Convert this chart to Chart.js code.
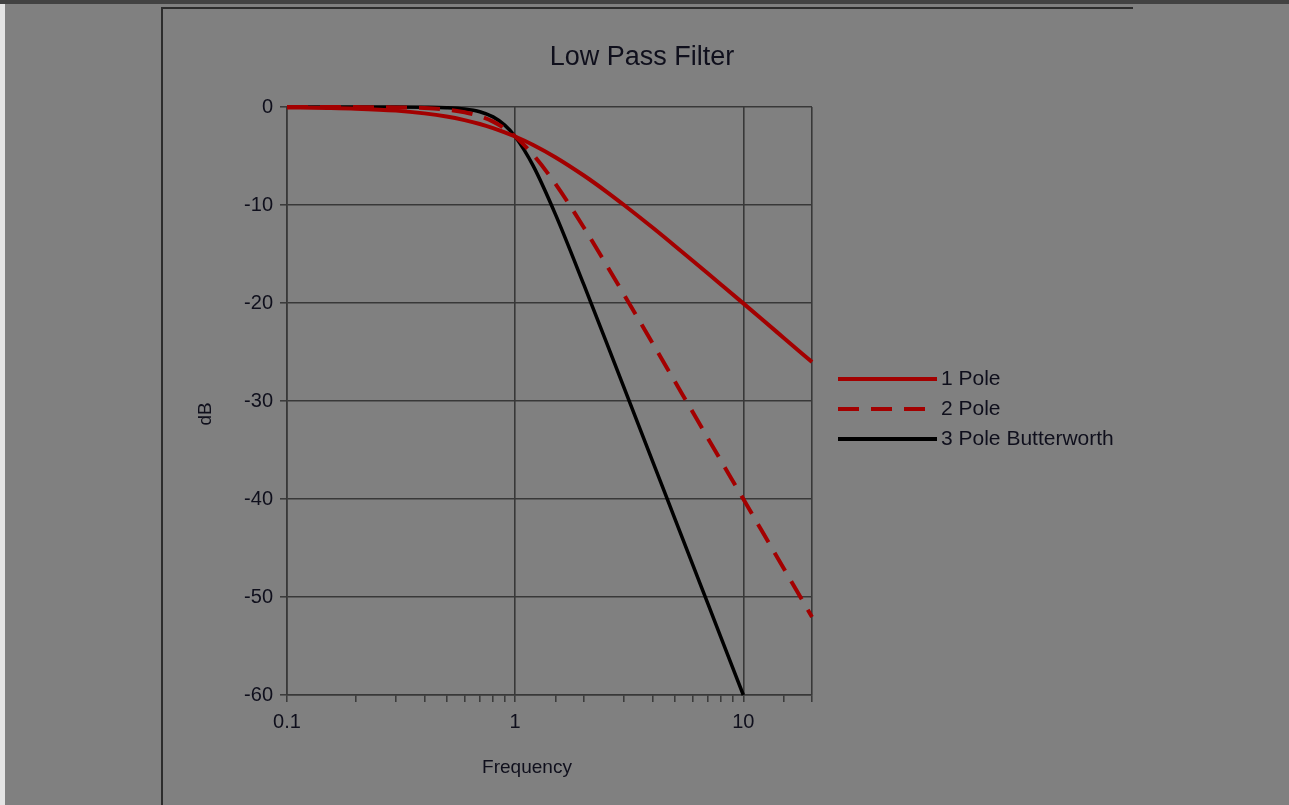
<!DOCTYPE html>
<html>
<head>
<meta charset="utf-8">
<script src="https://cdn.jsdelivr.net/npm/chart.js@4.4.1/dist/chart.umd.min.js"></script>
<style>
  html, body { margin: 0; padding: 0; background: #808080; overflow: hidden; }
  #wrap { position: absolute; left: 0; top: 0; width: 1289px; height: 805px; }
  #topbar { position: absolute; left: 0; top: 0; width: 1289px; height: 4px; background: #424242; }
  #leftstrip { position: absolute; left: 0; top: 4px; width: 5px; height: 801px; background: #e4e4e4; }
  #frameTop { position: absolute; left: 161px; top: 7px; width: 972px; height: 2px; background: #2c2c2c; }
  #frameLeft { position: absolute; left: 161px; top: 7px; width: 2px; height: 798px; background: #2c2c2c; }
  canvas { position: absolute; left: 0; top: 0; }
</style>
</head>
<body>
<div id="wrap">
  <div id="topbar"></div>
  <div id="leftstrip"></div>
  <div id="frameTop"></div>
  <div id="frameLeft"></div>
  <canvas id="c" width="1289" height="805"></canvas>
</div>
<script>
// ---- data ----
const chartTitle = "Low Pass Filter";
const xAxisTitle = "Frequency";
const yAxisTitle = "dB";
const seriesNames = ["1 Pole", "2 Pole", "3 Pole Butterworth"];
const frequency = [0.1, 0.15, 0.2, 0.3, 0.4, 0.5, 0.6, 0.7, 0.8, 0.9, 1, 1.2, 1.5, 2, 2.5, 3, 4, 5, 6, 7, 8, 10, 12, 15, 20];
const onePole = [-0.04, -0.1, -0.17, -0.37, -0.65, -0.97, -1.34, -1.73, -2.15, -2.58, -3.01, -3.87, -5.12, -6.99, -8.6, -10, -12.3, -14.15, -15.68, -16.99, -18.13, -20.04, -21.61, -23.54, -26.03];
const twoPole = [0, 0, -0.01, -0.04, -0.11, -0.26, -0.53, -0.93, -1.49, -2.19, -3.01, -4.88, -7.83, -12.3, -16.03, -19.14, -24.1, -27.97, -31.13, -33.81, -36.13, -40, -43.17, -47.04, -52.04];
const threePole = [0, 0, 0, 0, -0.02, -0.07, -0.2, -0.48, -1.01, -1.85, -3.01, -6.01, -10.93, -18.13, -23.89, -28.63, -36.13, -41.94, -46.69, -50.71, -54.19, -60, null, null, null];
const xTickLabels = ["0.1", "1", "10"];
const xMin = 0.1, xMax = 20;
const yMin = -60, yMax = 0, yStep = 10;

// ---- styles ----
const RED = "#a30000";
const BLACK = "#000000";
const GRID = "#383838";
const TEXT = "#0f0f1c";
const FONT = "'Liberation Sans', Arial, sans-serif";
Chart.defaults.font.family = FONT;

function toPoints(vals) {
  return frequency.map((f, i) => ({ x: f, y: vals[i] }));
}
function isDecade(v) {
  const l = Math.log10(v);
  return Math.abs(l - Math.round(l)) < 1e-9;
}

const datasets = [
  { label: seriesNames[0], data: toPoints(onePole), borderColor: RED, borderWidth: 4, borderDash: [] },
  { label: seriesNames[1], data: toPoints(twoPole), borderColor: RED, borderWidth: 4, borderDash: [21, 12] },
  { label: seriesNames[2], data: toPoints(threePole), borderColor: BLACK, borderWidth: 3.5, borderDash: [] }
].map(d => Object.assign(d, {
  pointRadius: 0, fill: false, cubicInterpolationMode: 'monotone', clip: false, spanGaps: false, borderCapStyle: 'butt'
}));

const decorPlugin = {
  id: 'decor',
  afterDraw(chart) {
    const ctx = chart.ctx;
    ctx.save();
    ctx.fillStyle = TEXT;
    // title
    ctx.font = "27px " + FONT;
    ctx.textAlign = "center";
    ctx.textBaseline = "alphabetic";
    ctx.fillText(chartTitle, 642, 65);
    // x axis title
    ctx.font = "19px " + FONT;
    ctx.fillText(xAxisTitle, 527, 773);
    // y axis title
    ctx.save();
    ctx.translate(206, 414);
    ctx.rotate(-Math.PI / 2);
    ctx.textBaseline = "middle";
    ctx.font = "19px " + FONT;
    ctx.fillText(yAxisTitle, 0, 0);
    ctx.restore();
    // legend
    const ys = [379, 409, 439];
    chart.data.datasets.forEach((ds, i) => {
      ctx.beginPath();
      ctx.strokeStyle = ds.borderColor;
      ctx.lineWidth = 4;
      ctx.lineCap = 'butt';
      ctx.setLineDash(ds.borderDash || []);
      ctx.moveTo(838, ys[i]);
      ctx.lineTo(937, ys[i]);
      ctx.stroke();
      ctx.setLineDash([]);
      ctx.fillStyle = TEXT;
      ctx.font = "21px " + FONT;
      ctx.textAlign = "left";
      ctx.textBaseline = "middle";
      ctx.fillText(ds.label, 941, ys[i]);
    });
    ctx.restore();
  }
};

new Chart(document.getElementById('c'), {
  type: 'line',
  data: { datasets },
  options: {
    responsive: false,
    animation: false,
    events: [],
    layout: { padding: { left: 0, top: 107, right: 477, bottom: 0 } },
    plugins: { legend: { display: false }, title: { display: false }, tooltip: { enabled: false } },
    scales: {
      x: {
        type: 'logarithmic',
        min: xMin,
        max: xMax,
        afterFit: s => { s.height = 805 - 695; },
        grid: {
          color: c => (c.tick && (isDecade(c.tick.value) || c.tick.value === xMax)) ? GRID : 'rgba(0,0,0,0)',
          lineWidth: 1.6,
          drawTicks: true,
          tickLength: 7,
          tickColor: GRID,
          tickWidth: 1.5
        },
        border: { display: true, color: GRID, width: 1.6 },
        ticks: {
          autoSkip: false,
          maxRotation: 0,
          padding: 8,
          color: TEXT,
          font: { size: 20 },
          callback: function(v) {
            if (!isDecade(v)) return '';
            const idx = Math.round(Math.log10(v)) - Math.round(Math.log10(xMin));
            return xTickLabels[idx] !== undefined ? xTickLabels[idx] : '';
          }
        }
      },
      y: {
        min: yMin,
        max: yMax,
        afterFit: s => { s.width = 287; },
        grid: { color: GRID, lineWidth: 1.6, drawTicks: true, tickLength: 7, tickColor: GRID, tickWidth: 1.5 },
        border: { display: true, color: GRID, width: 1.6 },
        ticks: { stepSize: yStep, padding: 7, color: TEXT, font: { size: 20 } }
      }
    }
  },
  plugins: [decorPlugin]
});
</script>
</body>
</html>
